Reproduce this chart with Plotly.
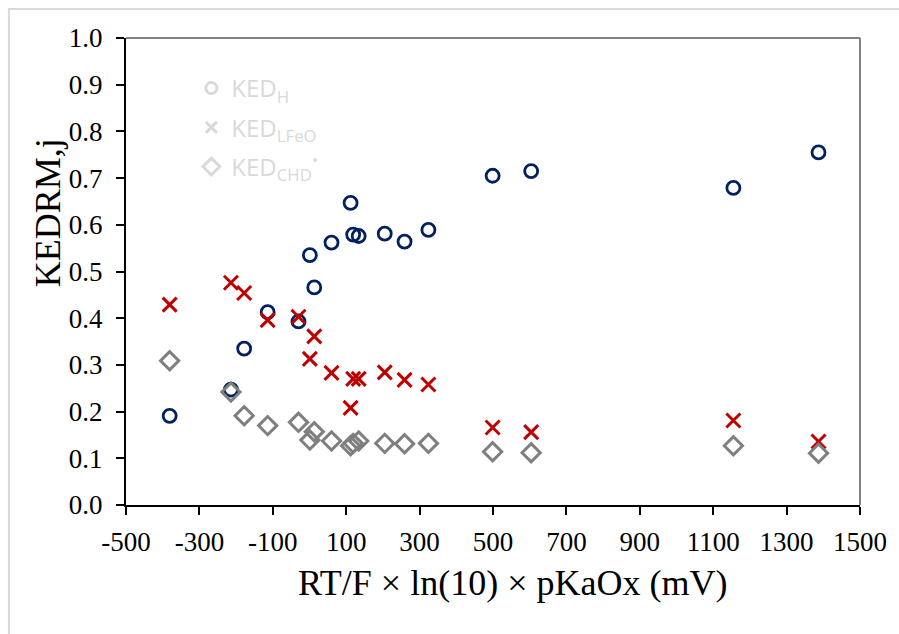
import plotly.graph_objects as go

# x values: RT/F x ln(10) x pKaOx (mV)
x_vals = [-381, -214, -178, -114, -30, 1, 13, 60, 112, 119, 134, 205, 259, 324, 499, 604, 1155, 1387]
ked_h = [0.191, 0.247, 0.335, 0.413, 0.393, 0.535, 0.466, 0.562, 0.647, 0.579, 0.576, 0.581, 0.564, 0.589, 0.705, 0.715, 0.679, 0.755]
ked_lfeo = [0.429, 0.476, 0.454, 0.396, 0.403, 0.313, 0.361, 0.283, 0.208, 0.270, 0.270, 0.284, 0.268, 0.258, 0.166, 0.156, 0.181, 0.136]
ked_chd = [0.309, 0.242, 0.191, 0.170, 0.177, 0.139, 0.157, 0.137, 0.127, 0.132, 0.137, 0.132, 0.131, 0.132, 0.114, 0.112, 0.127, 0.111]

x_ticks = [-500, -300, -100, 100, 300, 500, 700, 900, 1100, 1300, 1500]
x_tick_labels = [str(v) for v in x_ticks]
y_ticks = [0.0, 0.1, 0.2, 0.3, 0.4, 0.5, 0.6, 0.7, 0.8, 0.9, 1.0]
y_tick_labels = [f"{v:.1f}" for v in y_ticks]

legend_names = ["KED<sub>H</sub>", "KED<sub>LFeO</sub>", "KED<sub>CHD</sub><sup>•</sup>"]
series = [ked_h, ked_lfeo, ked_chd]
colors = ["#002060", "#C00000", "#7F7F7F"]
symbols = ["circle-open", "x-thin-open", "diamond-open"]
sizes = [13, 14, 14]
widths = [2.8, 3, 3]
legend_sizes = [11, 11, 13]

fig = go.Figure()
for ys, c, s, sz, w in zip(series, colors, symbols, sizes, widths):
    fig.add_trace(go.Scatter(x=x_vals, y=ys, mode="markers", showlegend=False,
                             marker=dict(symbol=s, size=sz, color=c, line=dict(color=c, width=w))))

# legend entries (rendered in light gray as in the reference)
for i, (name, s, ls) in enumerate(zip(legend_names, symbols, legend_sizes)):
    fig.add_trace(go.Scatter(x=[None], y=[None], mode="markers", name=name, legendgroup=f"g{i}",
                             marker=dict(symbol=s, size=ls, color="#D9D9D9", line=dict(color="#D9D9D9", width=3))))

serif = "Liberation Serif"
fig.update_layout(
    width=899, height=634,
    margin=dict(l=126, r=33, t=38, b=129),
    paper_bgcolor="white", plot_bgcolor="white",
    font=dict(family=serif, size=27, color="black"),
    showlegend=True,
    legend=dict(x=0.089, y=0.94, xanchor="left", yanchor="top", bgcolor="rgba(0,0,0,0)",
                font=dict(family="Open Sans", size=24, color="#D9D9D9"),
                traceorder="grouped", tracegroupgap=5, itemwidth=30),
    xaxis=dict(range=[-500, 1500], tickmode="array", tickvals=x_ticks, ticktext=x_tick_labels,
               showgrid=False, zeroline=False,
               showline=True, linecolor="black", linewidth=2, ticks="outside", ticklen=8,
               tickwidth=2, tickcolor="black", ticklabelstandoff=4,
               tickfont=dict(family=serif, size=27, color="black")),
    yaxis=dict(range=[0, 1], tickmode="array", tickvals=y_ticks, ticktext=y_tick_labels,
               showgrid=False, zeroline=False,
               showline=True, linecolor="black", linewidth=2, ticks="outside", ticklen=8,
               tickwidth=2, tickcolor="black", ticklabelstandoff=8,
               tickfont=dict(family=serif, size=27, color="black")),
    shapes=[
        dict(type="line", xref="paper", yref="paper", x0=0, x1=1, y0=1, y1=1,
             line=dict(color="#595959", width=1.5)),
        dict(type="line", xref="paper", yref="paper", x0=1, x1=1, y0=0, y1=1,
             line=dict(color="#595959", width=1.5)),
        dict(type="rect", xref="paper", yref="paper", x0=-0.1595, x1=1.06, y0=-0.3, y1=1.062,
             line=dict(color="#D9D9D9", width=2)),
    ],
    annotations=[
        dict(text="KEDRM,j", xref="paper", yref="paper", x=-0.106, y=0.625, textangle=-90,
             showarrow=False, xanchor="center", yanchor="middle",
             font=dict(family=serif, size=36, color="black")),
        dict(text="RT/F × ln(10) × pKaOx (mV)", xref="paper", yref="paper", x=0.527, y=-0.168,
             showarrow=False, xanchor="center", yanchor="middle",
             font=dict(family=serif, size=36, color="black")),
    ],
)

fig.write_html("out.html")
